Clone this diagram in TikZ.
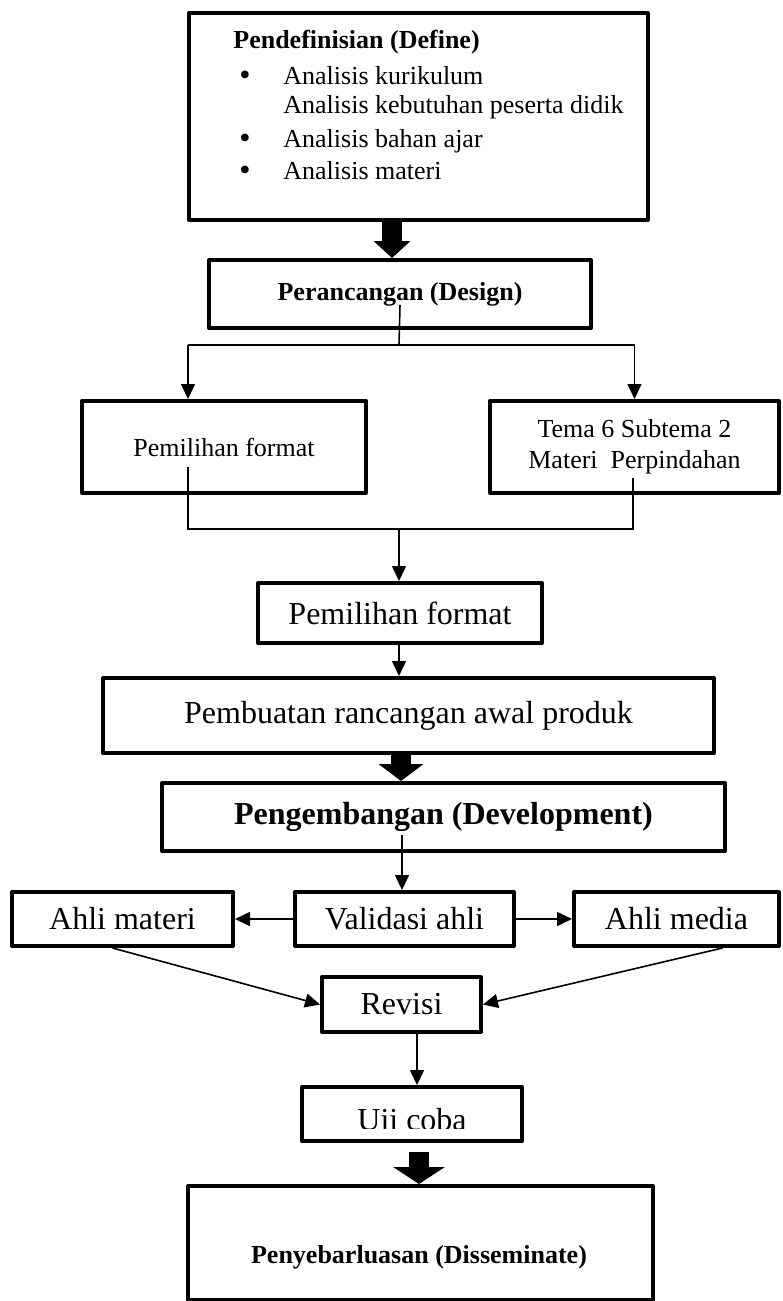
\documentclass[tikz,border=0pt]{standalone}
\usepackage{fontspec}
\setmainfont{Liberation Serif}
\usepackage{tikz}
\usetikzlibrary{arrows.meta}

\tikzset{
  box/.style={draw, line width=2pt, line join=round, fill=white, inner sep=0pt, align=center},
  link/.style={line width=0.8pt},
  linkarrow/.style={link, -{Triangle[length=7.5pt,width=7pt]}},
  bigarrow/.style={line width=10pt, -{Triangle[length=8.5pt,width=#1]}},
  bigarrow/.default=22pt,
  smalltext/.style={font=\fontsize{13}{15.5}\selectfont},
  bigtext/.style={font=\fontsize{16}{19}\selectfont},
  deftext/.style={smalltext, anchor=base west, inner sep=0pt},
  defbullet/.style={font=\fontsize{16}{16}\selectfont, anchor=base west, inner sep=0pt}
}

\begin{document}
\begin{tikzpicture}[x=0.5pt,y=-0.5pt]
\useasboundingbox (0,0) rectangle (782,1301);

\node [box, minimum width=229.5pt, minimum height=103.5pt] (define) at (418,116.5) {};
\node [deftext] (defhead) at (233,48) {\textbf{Pendefinisian (Define)}};
\node [defbullet] (bulA) at (239,85) {\textbullet};
\node [deftext] (defA) at (283,84) {Analisis kurikulum};
\node [deftext] (defB) at (283,113) {Analisis kebutuhan peserta didik};
\node [defbullet] (bulC) at (239,148) {\textbullet};
\node [deftext] (defC) at (283,147) {Analisis bahan ajar};
\node [defbullet] (bulD) at (239,180) {\textbullet};
\node [deftext] (defD) at (283,179) {Analisis materi};

\node [box, smalltext, minimum width=191pt, minimum height=34pt] (design) at (400,294) {\textbf{Perancangan (Design)}};
\node [box, smalltext, minimum width=142pt, minimum height=46pt] (fmtA) at (224,447) {Pemilihan format};
\node [box, smalltext, minimum width=144.5pt, minimum height=46pt] (tema) at (634.5,447) {Tema 6 Subtema 2\\Materi~ Perpindahan};
\node [box, bigtext, minimum width=142pt, minimum height=30pt] (fmtB) at (400,613) {Pemilihan format};
\node [box, bigtext, minimum width=305.5pt, minimum height=37.5pt] (rancang) at (408.5,715.5) {Pembuatan rancangan awal produk};
\node [box, bigtext, minimum width=281.5pt, minimum height=34pt] (develop) at (443.5,817) {\textbf{Pengembangan (Development)}};
\node [box, bigtext, minimum width=110.5pt, minimum height=27pt] (ahliMat) at (122.5,919) {Ahli materi};
\node [box, bigtext, minimum width=109.5pt, minimum height=27pt] (valid) at (404.5,919) {Validasi ahli};
\node [box, bigtext, minimum width=102.5pt, minimum height=27pt] (ahliMed) at (676.5,919) {Ahli media};
\node [box, bigtext, minimum width=79.5pt, minimum height=27.5pt] (revisi) at (401.5,1004.5) {Revisi};
\node [box, minimum width=110pt, minimum height=27pt] (uji) at (412,1114) {};
\begin{scope}
  \clip (302,1087) rectangle (522,1128);
  \node [bigtext, anchor=base] (ujitxt) at (412,1130) {Uji coba};
\end{scope}
\node [box, minimum width=232.5pt, minimum height=57pt] (dissem) at (420.5,1243) {};
\node [smalltext, anchor=base] (dissemtxt) at (419,1263) {\textbf{Penyebarluasan (Disseminate)}};

\coordinate (jtop) at (399,345);
\coordinate (jleft) at (188,345);
\coordinate (jright) at (634.5,345);
\coordinate (fA) at (188,467);
\coordinate (fT) at (633,478);
\coordinate (mleft) at (188,529);
\coordinate (mmid) at (399,529);
\coordinate (mright) at (633,529);
\coordinate (dv) at (402,835);
\coordinate (uj) at (419,1152);

\draw [bigarrow=18pt] (define.south -| 392,0) -- (design.north -| 392,0);
\draw [link] ([yshift=-5.5pt]design.center) -- (jtop);
\draw [link] (jleft) -- (jright);
\draw [linkarrow] (jleft) -- (jleft |- fmtA.north);
\draw [linkarrow] (jright) -- (tema.north);
\draw [link] (fA) -- (mleft) -- (mright) -- (fT);
\draw [linkarrow] (mmid) -- (mmid |- fmtB.north);
\draw [linkarrow] (fmtB.south -| mmid) -- (rancang.north -| mmid);
\draw [bigarrow=22pt] (rancang.south -| 401,0) -- (develop.north -| 401,0);
\draw [linkarrow] (dv) -- (dv |- valid.north);
\draw [linkarrow] (valid.west) -- (ahliMat.east);
\draw [linkarrow] (valid.east) -- (ahliMed.west);
\draw [linkarrow] ([xshift=-5pt]ahliMat.south) -- (revisi.west);
\draw [linkarrow] ([xshift=23pt]ahliMed.south) -- (revisi.east);
\draw [linkarrow] (revisi.south -| 417,0) -- (uji.north -| 417,0);
\draw [bigarrow=25.5pt] (uj) -- (uj |- dissem.north);

\end{tikzpicture}
\end{document}
